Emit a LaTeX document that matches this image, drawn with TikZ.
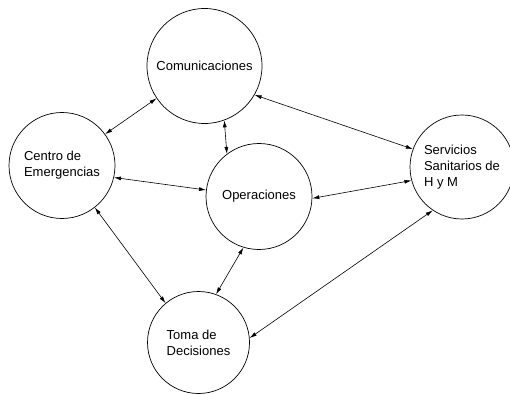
\documentclass[tikz,border=0pt]{standalone}
\usepackage{fontspec}
\setmainfont{Liberation Sans}
\usetikzlibrary{arrows.meta}

\begin{document}
\begin{tikzpicture}[x=1pt,y=-1pt,
    unit/.style={draw, circle, inner sep=0pt, line width=0.7pt, align=left,
                 font=\fontsize{13}{16}\selectfont},
    link/.style={{Latex[length=7pt,width=4pt]}-{Latex[length=7pt,width=4pt]}, line width=0.6pt}]
    \useasboundingbox (0,0) rectangle (510,395);

    \node[unit, minimum size=115pt] (com)   at (204.5,66)  {Comunicaciones};
    \node[unit, minimum size=106pt] (centro) at (62,165.5) {Centro de\\Emergencias};
    \node[unit, minimum size=106pt] (op)    at (259,196.5) {Operaciones};
    \node[unit, minimum size=104pt] (serv)  at (462,167)   {Servicios\\Sanitarios de\\H y M};
    \node[unit, minimum size=102pt] (toma)  at (198.5,342.5) {Toma de\\Decisiones};

    \draw[link] (com.214) -- (centro.36);
    \draw[link] (com.-70) -- (op.127);
    \draw[link] (com.-30) -- (serv.160);
    \draw[link] (centro.-13) -- (op.173);
    \draw[link] (op.-2) -- (serv.195);
    \draw[link] (centro.-52) -- (toma.130);
    \draw[link] (op.-107) -- (toma.70);
    \draw[link] (toma.5) -- (serv.236);
\end{tikzpicture}
\end{document}
